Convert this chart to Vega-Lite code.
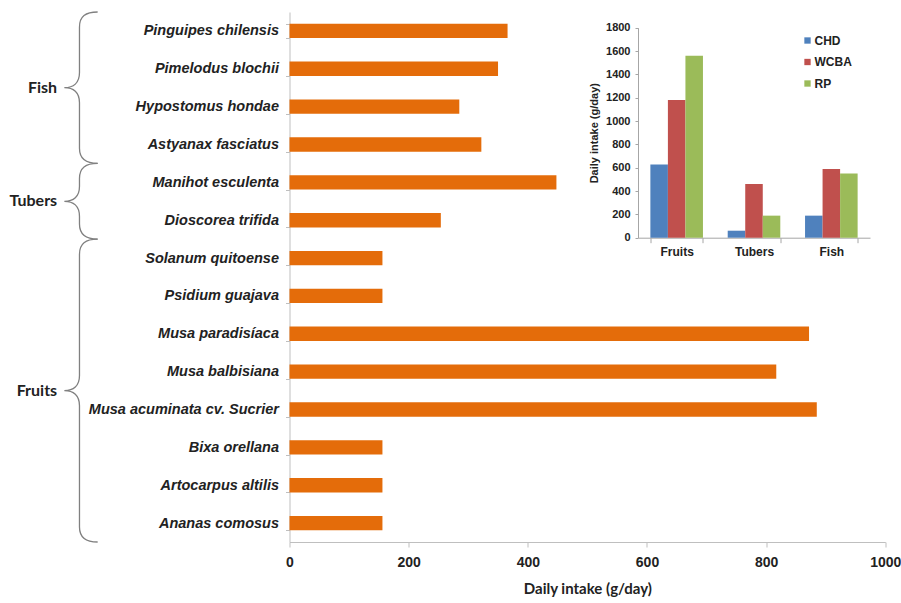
{
  "$schema": "https://vega.github.io/schema/vega-lite/v6.json",
  "width": 595.8,
  "height": 530,
  "autosize": {"type": "none"},
  "padding": {"left": 289.5, "top": 12, "right": 15.7, "bottom": 61},
  "background": "white",
  "config": {"view": {"stroke": null}, "font": "Liberation Sans"},
  "datasets": {
    "intake": [
      {"species": "Pinguipes chilensis", "group": "Fish", "intake": 366},
      {"species": "Pimelodus blochii", "group": "Fish", "intake": 350},
      {"species": "Hypostomus hondae", "group": "Fish", "intake": 285},
      {"species": "Astyanax fasciatus", "group": "Fish", "intake": 322},
      {"species": "Manihot esculenta", "group": "Tubers", "intake": 448},
      {"species": "Dioscorea trifida", "group": "Tubers", "intake": 254},
      {"species": "Solanum quitoense", "group": "Fruits", "intake": 156},
      {"species": "Psidium guajava", "group": "Fruits", "intake": 156},
      {"species": "Musa paradisíaca", "group": "Fruits", "intake": 872},
      {"species": "Musa balbisiana", "group": "Fruits", "intake": 817},
      {"species": "Musa acuminata cv. Sucrier", "group": "Fruits", "intake": 885},
      {"species": "Bixa orellana", "group": "Fruits", "intake": 156},
      {"species": "Artocarpus altilis", "group": "Fruits", "intake": 156},
      {"species": "Ananas comosus", "group": "Fruits", "intake": 156}
    ],
    "groups": [
      {"group": "Fish", "mid": 2},
      {"group": "Tubers", "mid": 5},
      {"group": "Fruits", "mid": 10}
    ],
    "inset": [
      {"food": "Fruits", "series": "CHD", "intake": 628},
      {"food": "Fruits", "series": "WCBA", "intake": 1180},
      {"food": "Fruits", "series": "RP", "intake": 1560},
      {"food": "Tubers", "series": "CHD", "intake": 60},
      {"food": "Tubers", "series": "WCBA", "intake": 460},
      {"food": "Tubers", "series": "RP", "intake": 189},
      {"food": "Fish", "series": "CHD", "intake": 189},
      {"food": "Fish", "series": "WCBA", "intake": 589},
      {"food": "Fish", "series": "RP", "intake": 551}
    ]
  },
  "layer": [
    {
      "layer": [
        {
          "data": {"name": "intake"},
          "mark": {"type": "bar", "color": "#E46C0A"},
          "encoding": {
            "y": {
              "field": "species",
              "type": "nominal",
              "sort": null,
              "scale": {"paddingInner": 0.62, "paddingOuter": 0.31},
              "axis": {
                "title": null,
                "orient": "left",
                "tickBand": "extent",
                "labelFont": "Liberation Sans",
                "labelFontStyle": "italic",
                "labelFontWeight": "bold",
                "labelFontSize": 14.5,
                "labelColor": "#222222",
                "domainColor": "#bfbfbf",
                "tickColor": "#bfbfbf",
                "tickSize": 4,
                "labelPadding": 7,
                "labelLimit": 300
              }
            },
            "x": {
              "field": "intake",
              "type": "quantitative",
              "scale": {"domain": [0, 1000], "nice": false},
              "axis": {
                "title": "Daily intake (g/day)",
                "orient": "bottom",
                "values": [0, 200, 400, 600, 800, 1000],
                "format": "d",
                "labelFlush": false,
                "grid": false,
                "domainColor": "#bfbfbf",
                "tickColor": "#bfbfbf",
                "tickSize": 5,
                "labelFont": "Liberation Sans",
                "labelFontSize": 14,
                "labelFontWeight": "bold",
                "labelColor": "#222222",
                "labelPadding": 8,
                "titleFont": "Lato",
                "titleFontSize": 15,
                "titleFontWeight": "bold",
                "titleColor": "#222222",
                "titlePadding": 12
              }
            }
          }
        },
        {
          "data": {"name": "groups"},
          "mark": {"type": "point", "filled": false, "size": 91750, "stroke": "#808080", "strokeWidth": 1.3, "opacity": 1},
          "encoding": {
            "x": {"datum": -352.5, "type": "quantitative", "scale": {"domain": [0, 1000], "nice": false}},
            "y": {"field": "mid", "type": "quantitative", "scale": {"domain": [0, 14], "reverse": true, "nice": false, "zero": false}, "axis": null},
            "shape": {
              "field": "group",
              "type": "nominal",
              "scale": {
                "domain": ["Fish", "Tubers", "Fruits"],
                "range": [
                  "M 0.12 -0.5 C 0.04 -0.5 0 -0.47 0 -0.4 L 0 -0.1 C 0 -0.03 -0.04 0 -0.1 0 C -0.04 0 0 0.03 0 0.1 L 0 0.4 C 0 0.47 0.04 0.5 0.12 0.5",
                  "M 0.12 -0.25 C 0.04 -0.25 0 -0.22 0 -0.15 L 0 -0.1 C 0 -0.03 -0.04 0 -0.1 0 C -0.04 0 0 0.03 0 0.1 L 0 0.15 C 0 0.22 0.04 0.25 0.12 0.25",
                  "M 0.12 -1 C 0.04 -1 0 -0.97 0 -0.9 L 0 -0.1 C 0 -0.03 -0.04 0 -0.1 0 C -0.04 0 0 0.03 0 0.1 L 0 0.9 C 0 0.97 0.04 1 0.12 1"
                ]
              },
              "legend": null
            }
          }
        },
        {
          "data": {"name": "groups"},
          "mark": {"type": "text", "align": "right", "baseline": "middle", "font": "Lato", "fontWeight": "bold", "fontSize": 16, "color": "#222222"},
          "encoding": {
            "x": {"datum": -390, "type": "quantitative", "scale": {"domain": [0, 1000], "nice": false}},
            "y": {"field": "mid", "type": "quantitative", "scale": {"domain": [0, 14], "reverse": true, "nice": false, "zero": false}, "axis": null},
            "text": {"field": "group", "type": "nominal"}
          }
        }
      ],
      "resolve": {"scale": {"y": "independent"}}
    },
    {
      "data": {"name": "inset"},
      "mark": {"type": "bar"},
      "encoding": {
        "x": {
          "field": "food",
          "type": "nominal",
          "sort": ["Fruits", "Tubers", "Fish"],
          "scale": {"range": [348.5, 580.5], "paddingInner": 0.32, "paddingOuter": 0.16},
          "axis": {
            "orient": "bottom",
            "offset": -304.3,
            "title": null,
            "labelAngle": 0,
            "tickBand": "extent",
            "domainColor": "#a6a6a6",
            "tickColor": "#a6a6a6",
            "tickSize": 5,
            "labelFont": "Liberation Sans",
            "labelFontSize": 12,
            "labelFontWeight": "bold",
            "labelColor": "#222222",
            "labelPadding": 4
          }
        },
        "xOffset": {
          "field": "series",
          "type": "nominal",
          "sort": ["CHD", "WCBA", "RP"],
          "scale": {"paddingInner": 0, "paddingOuter": 0}
        },
        "y": {
          "field": "intake",
          "type": "quantitative",
          "scale": {"domain": [0, 1800], "range": [225.7, 15.7], "nice": false},
          "axis": {
            "orient": "left",
            "offset": -348.5,
            "values": [0, 200, 400, 600, 800, 1000, 1200, 1400, 1600, 1800],
            "format": "d",
            "labelFlush": false,
            "grid": false,
            "title": "Daily intake (g/day)",
            "titleFont": "Liberation Sans",
            "titleFontSize": 11,
            "titleFontWeight": "bold",
            "titleColor": "#222222",
            "titlePadding": 6,
            "labelFont": "Liberation Sans",
            "labelFontSize": 11,
            "labelFontWeight": "bold",
            "labelColor": "#222222",
            "domainColor": "#a6a6a6",
            "tickColor": "#a6a6a6",
            "tickSize": 3,
            "labelPadding": 5
          }
        },
        "color": {
          "field": "series",
          "type": "nominal",
          "sort": ["CHD", "WCBA", "RP"],
          "scale": {"domain": ["CHD", "WCBA", "RP"], "range": ["#4F81BD", "#C0504D", "#9BBB59"]},
          "legend": {
            "orient": "none",
            "legendX": 512,
            "legendY": 22.5,
            "title": null,
            "symbolType": "square",
            "symbolSize": 40,
            "symbolStrokeWidth": 0,
            "labelFont": "Liberation Sans",
            "labelFontSize": 12,
            "labelFontWeight": "bold",
            "labelColor": "#222222",
            "rowPadding": 9.5,
            "labelOffset": 1,
            "padding": 0
          }
        }
      }
    }
  ],
  "resolve": {"scale": {"x": "independent", "y": "independent", "color": "independent"}}
}
